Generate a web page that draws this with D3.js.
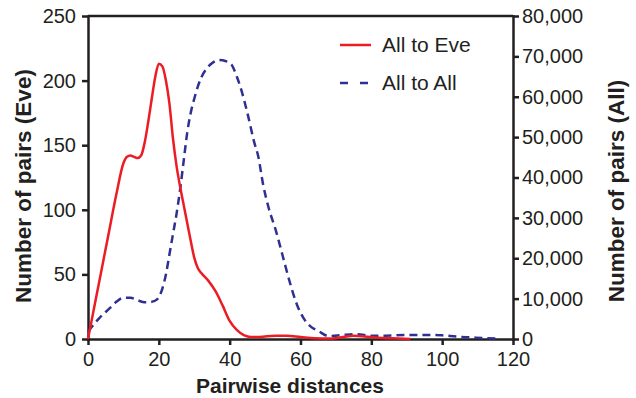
<!DOCTYPE html>
<html lang="en">
<head>
  <meta charset="UTF-8">
  <title>Pairwise distances</title>
  <style>
  body { margin: 0; background: #fff; }
  text { font-family: "Liberation Sans", Arial, sans-serif; fill: #231f20; }
  .axis path, .axis line { stroke: #231f20; stroke-width: 2.5px; }
  .axis text { font-size: 20px; font-family: "Liberation Sans", Arial, sans-serif; fill: #231f20; }
  .title { font-weight: bold; }
  </style>
</head>
<body>
  <script src="https://d3js.org/d3.v7.min.js"></script>
  <script type="text/javascript">

    // All to Eve (left axis)
    var eveDist = [0,2,4,6,8,10,11,12,13,14,15,16,17,18,19,20,21,22,23,24,25,26,27,28,29,30,31,32,34,36,38,40,42,44,46,48,50,53,56,60,64,68,72,75,78,82,86,91];
    var evePairs = [0,28,56,84,112,136,141,142,141,140,142,152,168,186,203,213,211,200,182,155,134,118,104,90,76,63,55,51,45,37,26,14,7,3,1.5,1.5,2,2.5,2.5,1.5,0.5,0.3,1.5,2.5,2,1,0.5,0];

    // All to All (right axis)
    var allDist = [0,3,6,8,10,12,14,16,18,19.5,21,22,23,24,25,26,27,28,29,30,31,32,33.5,35,37,39,40.5,42,43,45,47,48,49.5,51,53,55,57,59,61,63,65,68,72,76,80,84,90,96,100,104,108,112,116];
    var allPairs = [1800,5000,7500,9200,10200,10200,9600,9100,9200,9800,12500,16000,21000,26000,31000,37000,44000,51000,56000,59500,62500,64800,67000,68300,69100,68800,68000,65000,62500,56000,48500,45500,38000,32500,27000,20500,14000,8500,5000,3000,2000,700,1000,1200,800,800,1000,1000,900,600,400,200,100];

    var xTicks = [0,20,40,60,80,100,120];
    var eveTicks = [0,50,100,150,200,250];
    var allTicks = [0,10000,20000,30000,40000,50000,60000,70000,80000];

    var width = 636;
    var height = 398;
    var plotL = 88, plotR = 513, plotT = 16, plotB = 339;

    var svg = d3.select("body")
        .append("svg")
          .attr("width", width)
          .attr("height", height);

    var x = d3.scaleLinear().domain([0, 120]).range([plotL, plotR]);
    var yEve = d3.scaleLinear().domain([0, 250]).range([plotB, plotT]);
    var yAll = d3.scaleLinear().domain([0, 80000]).range([plotB, plotT]);

    // top border
    svg.append("line")
        .attr("x1", plotL).attr("x2", plotR)
        .attr("y1", plotT).attr("y2", plotT)
        .attr("stroke", "#231f20")
        .attr("stroke-width", 2.5);

    svg.append("g")
        .attr("class", "axis")
        .attr("transform", "translate(0," + plotB + ")")
        .call(d3.axisBottom(x).tickValues(xTicks).tickSize(6).tickSizeOuter(0).tickPadding(7));

    svg.append("g")
        .attr("class", "axis")
        .attr("transform", "translate(" + plotL + ",0)")
        .call(d3.axisLeft(yEve).tickValues(eveTicks).tickSize(6).tickSizeOuter(0).tickPadding(6));

    svg.append("g")
        .attr("class", "axis")
        .attr("transform", "translate(" + plotR + ",0)")
        .call(d3.axisRight(yAll).tickValues(allTicks).tickFormat(d3.format(",")).tickSize(6).tickSizeOuter(0).tickPadding(3));

    svg.selectAll(".axis .domain").attr("stroke-linecap", "square");
    svg.selectAll(".axis text").attr("font-family", null).attr("font-size", null);

    var eveLine = d3.line()
        .x(function(d, i){ return x(eveDist[i]); })
        .y(function(d){ return yEve(d); })
        .curve(d3.curveMonotoneX);

    var allLine = d3.line()
        .x(function(d, i){ return x(allDist[i]); })
        .y(function(d){ return yAll(d); })
        .curve(d3.curveMonotoneX);

    svg.append("path")
        .attr("d", allLine(allPairs))
        .attr("fill", "none")
        .attr("stroke", "#2e3192")
        .attr("stroke-width", 2.5)
        .attr("stroke-dasharray", "8,5");

    svg.append("path")
        .attr("d", eveLine(evePairs))
        .attr("fill", "none")
        .attr("stroke", "#ed1c24")
        .attr("stroke-width", 2.5);

    // legend
    var legend = svg.append("g");
    legend.append("line")
        .attr("x1", 340).attr("x2", 371).attr("y1", 45).attr("y2", 45)
        .attr("stroke", "#ed1c24").attr("stroke-width", 2.5);
    legend.append("text").attr("x", 382).attr("y", 52).style("font-size", "21px").text("All to Eve");
    legend.append("line")
        .attr("x1", 340).attr("x2", 371).attr("y1", 83).attr("y2", 83)
        .attr("stroke", "#2e3192").attr("stroke-width", 2.5)
        .attr("stroke-dasharray", "8,12");
    legend.append("text").attr("x", 382).attr("y", 90).style("font-size", "21px").text("All to All");

    // axis titles
    svg.append("text")
        .attr("class", "title")
        .style("font-size", "21px")
        .attr("x", 290).attr("y", 393)
        .attr("text-anchor", "middle")
        .text("Pairwise distances");

    svg.append("text")
        .attr("class", "title")
        .style("font-size", "22.5px")
        .attr("transform", "translate(31,186) rotate(-90)")
        .attr("text-anchor", "middle")
        .text("Number of pairs (Eve)");

    svg.append("text")
        .attr("class", "title")
        .style("font-size", "22.5px")
        .attr("transform", "translate(624,191) rotate(-90)")
        .attr("text-anchor", "middle")
        .text("Number of pairs (All)");
  </script>
</body>
</html>
